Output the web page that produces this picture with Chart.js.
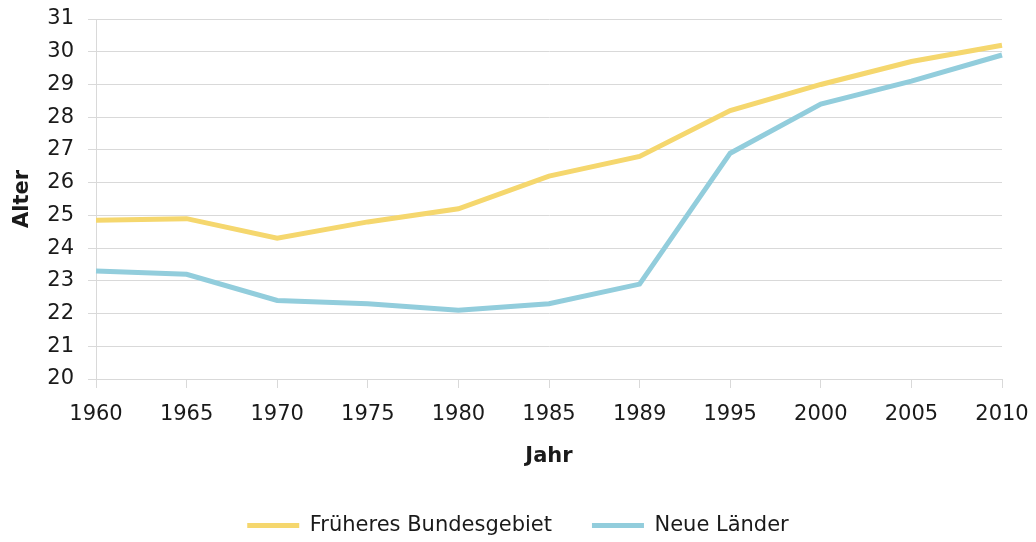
<!DOCTYPE html>
<html>
<head>
<meta charset="utf-8">
<script src="https://cdn.jsdelivr.net/npm/chart.js@4/dist/chart.umd.min.js"></script>
<style>
  html, body { margin: 0; padding: 0; background: #ffffff; }
  #wrap { width: 1036px; height: 542px; }
</style>
</head>
<body>
<div id="wrap"><canvas id="c" width="1036" height="542"></canvas></div>
<script>
const years = ["1960", "1965", "1970", "1975", "1980", "1985", "1989", "1995", "2000", "2005", "2010"];
const fruheresBundesgebiet = [24.85, 24.9, 24.3, 24.8, 25.2, 26.2, 26.8, 28.2, 29.0, 29.7, 30.2];
const neueLaender = [23.3, 23.2, 22.4, 22.3, 22.1, 22.3, 22.9, 26.9, 28.4, 29.1, 29.9];
const seriesNames = ["Früheres Bundesgebiet", "Neue Länder"];
const yTitle = "Alter";
const xTitle = "Jahr";

const FONT = "'DejaVu Sans', sans-serif";
const TEXT = "#1a1a1a";
const GRID = "#d9d9d9";

new Chart(document.getElementById('c'), {
  type: 'line',
  data: {
    labels: years,
    datasets: [
      { label: seriesNames[0], data: fruheresBundesgebiet, borderColor: '#f5d76e', backgroundColor: '#f5d76e', borderWidth: 5, pointRadius: 0, tension: 0 },
      { label: seriesNames[1], data: neueLaender, borderColor: '#92cddc', backgroundColor: '#92cddc', borderWidth: 5, pointRadius: 0, tension: 0 }
    ]
  },
  options: {
    responsive: false,
    animation: false,
    devicePixelRatio: 1,
    layout: { padding: { left: 34, right: 34, top: 19, bottom: -4 } },
    plugins: {
      tooltip: { enabled: false },
      legend: {
        position: 'bottom',
        labels: {
          font: { family: FONT, size: 21 },
          color: TEXT,
          boxWidth: 52,
          boxHeight: 5,
          padding: 40,
          generateLabels: (chart) => Chart.defaults.plugins.legend.labels.generateLabels(chart).map(l => ({ ...l, lineWidth: 0, fillStyle: l.strokeStyle }))
        }
      }
    },
    scales: {
      x: {
        type: 'category',
        offset: false,
        grid: { drawOnChartArea: false, drawTicks: true, tickLength: 9, color: GRID },
        border: { display: true, color: GRID },
        ticks: { font: { family: FONT, size: 21 }, color: TEXT, padding: 14, maxRotation: 0, autoSkip: false },
        title: { display: true, text: xTitle, font: { family: FONT, size: 21, weight: 'bold' }, color: TEXT, padding: { top: 8, bottom: 6 } },
        afterFit: (s) => { s.height = 96; s.paddingLeft = 0; s.paddingRight = 0; }
      },
      y: {
        min: 20,
        max: 31,
        grid: { color: GRID, tickLength: 8, drawTicks: true },
        border: { display: true, color: GRID },
        ticks: { stepSize: 1, font: { family: FONT, size: 21 }, color: TEXT, padding: 14 },
        title: { display: true, text: yTitle, font: { family: FONT, size: 21, weight: 'bold' }, color: TEXT, padding: { top: -24, bottom: 0 } },
        afterFit: (s) => { s.width = 62; s.paddingTop = 0; s.paddingBottom = 0; }
      }
    }
  }
});
</script>
</body>
</html>
